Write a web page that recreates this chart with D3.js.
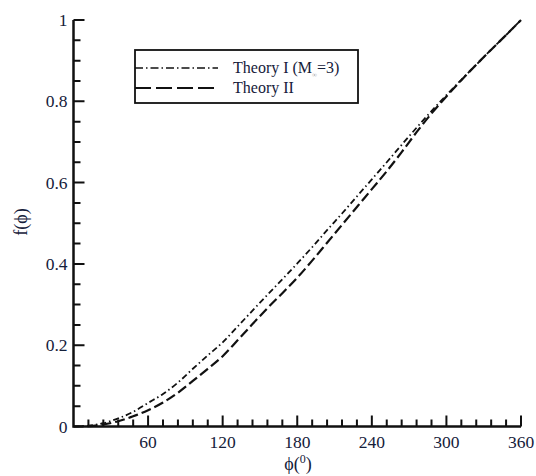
<!DOCTYPE html>
<html>
<head>
<meta charset="utf-8">
<script src="https://cdn.jsdelivr.net/npm/d3@7"></script>
<style>
  html, body { margin: 0; padding: 0; background: #fff; }
  svg { display: block; }
  svg text { font-family: "Liberation Serif", "Times New Roman", serif; }
</style>
</head>
<body>
<svg id="chart" width="536" height="476"></svg>
<script>
// ---- data ----
const phi = [0, 12, 24, 36, 48, 60, 72, 84, 96, 108, 120, 132, 144, 156, 168, 180,
             192, 204, 216, 228, 240, 252, 264, 276, 288, 300, 312, 324, 336, 348, 360];
const theoryI = [0, 0.002, 0.008, 0.020, 0.036, 0.058, 0.080, 0.108, 0.142, 0.175, 0.207,
                 0.246, 0.285, 0.324, 0.362, 0.401, 0.441, 0.483, 0.524, 0.566, 0.608,
                 0.650, 0.693, 0.735, 0.776, 0.815, 0.853, 0.890, 0.927, 0.963, 1.0];
const theoryII = [0, 0.001, 0.005, 0.013, 0.025, 0.040, 0.059, 0.083, 0.112, 0.142, 0.173,
                  0.212, 0.252, 0.291, 0.328, 0.366, 0.408, 0.452, 0.496, 0.540, 0.584,
                  0.628, 0.675, 0.724, 0.770, 0.812, 0.852, 0.890, 0.927, 0.963, 1.0];
const xMajor = [60, 120, 180, 240, 300, 360];
const xMinor = [12, 24, 36, 48, 72, 84, 96, 108, 132, 144, 156, 168, 192, 204, 216, 228,
                252, 264, 276, 288, 312, 324, 336, 348];
const yMajor = [0.2, 0.4, 0.6, 0.8, 1];
const yMinor = [0.05, 0.1, 0.15, 0.25, 0.3, 0.35, 0.45, 0.5, 0.55, 0.65, 0.7, 0.75,
                0.85, 0.9, 0.95];
const yLabels = ["0", "0.2", "0.4", "0.6", "0.8", "1"];
const yLabelValues = [0, 0.2, 0.4, 0.6, 0.8, 1];
const seriesNames = ["Theory I (M", "Theory II"];

// ---- layout ----
const svg = d3.select("#chart");
const x = d3.scaleLinear().domain([0, 360]).range([73.5, 521]);
const y = d3.scaleLinear().domain([0, 1]).range([426.5, 20]);
const ink = "#111111";
const txt = "#15203a";
const serif = '"Liberation Serif", "Times New Roman", serif';

const x0 = x(0), y0 = y(0);

// inward ticks
const tp = d3.path();
xMinor.forEach(d => { tp.moveTo(x(d), y0); tp.lineTo(x(d), y0 - 7); });
xMajor.forEach(d => { tp.moveTo(x(d), y0); tp.lineTo(x(d), y0 - 11); });
yMinor.forEach(d => { tp.moveTo(x0, y(d)); tp.lineTo(x0 + 7, y(d)); });
yMajor.forEach(d => { tp.moveTo(x0, y(d)); tp.lineTo(x0 + 11, y(d)); });
svg.append("path").attr("d", tp.toString()).attr("fill", "none")
  .style("stroke", ink).style("stroke-width", "2px");

// axis lines
const ap = d3.path();
ap.moveTo(x0, y(1)); ap.lineTo(x0, y0); ap.lineTo(x(360), y0);
svg.append("path").attr("d", ap.toString()).attr("fill", "none")
  .style("stroke", ink).style("stroke-width", "2.5px");

// tick labels
svg.selectAll(".xl").data(xMajor).join("text").attr("class", "xl")
  .attr("x", d => x(d)).attr("y", y0 + 21).attr("text-anchor", "middle")
  .attr("fill", txt).style("font-size", "17.5px").style("font-family", serif).text(d => d);
svg.selectAll(".yl").data(yLabelValues).join("text").attr("class", "yl")
  .attr("x", x0 - 6).attr("y", d => y(d) + 6).attr("text-anchor", "end")
  .attr("fill", txt).style("font-size", "17.5px").style("font-family", serif).text((d, i) => yLabels[i]);

// curves
const line = d3.line().x(d => x(d[0])).y(d => y(d[1])).curve(d3.curveMonotoneX);
const dI = phi.map((p, i) => [p, theoryI[i]]);
const dII = phi.map((p, i) => [p, theoryII[i]]);
svg.append("path").datum(dII).attr("d", line).attr("fill", "none")
  .style("stroke", ink).style("stroke-width", "2.2px").style("stroke-dasharray", "10,4");
svg.append("path").datum(dI).attr("d", line).attr("fill", "none")
  .style("stroke", ink).style("stroke-width", "1.8px").style("stroke-dasharray", "6,3,1.5,3");

// legend
const lg = svg.append("g");
lg.append("rect").attr("x", 135).attr("y", 50).attr("width", 223).attr("height", 53)
  .style("fill", "#fff").style("stroke", ink).style("stroke-width", "1.8px");
lg.append("line").attr("x1", 135).attr("x2", 218).attr("y1", 68).attr("y2", 68)
  .style("stroke", ink).style("stroke-width", "1.6px").style("stroke-dasharray", "8,3,1.5,3");
lg.append("line").attr("x1", 135).attr("x2", 218).attr("y1", 88).attr("y2", 88)
  .style("stroke", ink).style("stroke-width", "1.8px").style("stroke-dasharray", "16,5");
const t1 = lg.append("text").attr("x", 233).attr("y", 73).attr("fill", txt)
  .style("font-size", "16px").style("font-family", serif);
t1.append("tspan").text(seriesNames[0]);
t1.append("tspan").attr("dy", 4).style("font-size", "7px").attr("fill", "#aaa").text("∞");
t1.append("tspan").attr("dy", -4).text("=3)");
lg.append("text").attr("x", 233).attr("y", 93).attr("fill", txt)
  .style("font-size", "16px").style("font-family", serif).text(seriesNames[1]);

// axis titles
const xt = svg.append("text").attr("x", 298).attr("y", 470).attr("text-anchor", "middle")
  .attr("fill", txt).style("font-size", "18px").style("font-family", serif);
xt.append("tspan").text("ϕ(");
xt.append("tspan").attr("dy", -7).style("font-size", "12px").text("0");
xt.append("tspan").attr("dy", 7).text(")");
svg.append("text").attr("transform", "translate(27,222) rotate(-90)").attr("text-anchor", "middle")
  .attr("fill", txt).style("font-size", "18px").style("font-family", serif).text("f(ϕ)");
</script>
</body>
</html>
